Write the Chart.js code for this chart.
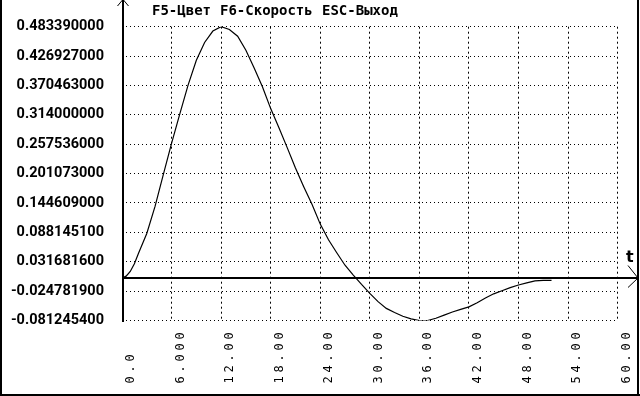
<!DOCTYPE html>
<html><head><meta charset="utf-8">
<script src="https://cdn.jsdelivr.net/npm/chart.js@4"></script>
<style>html,body{margin:0;padding:0;background:#fff;} canvas{display:block;}</style>
</head><body>
<canvas id="c" width="640" height="396"></canvas>
<script>
const T = [0,0.5,1,1.5,2,3,4,5,6,7,8,9,10,11,12,13,14,15,16,17,18,19,20,21,22,23,24,25,26,27,28,29,30,31,32,33,34,35,36,37,38,39,40,41,42,43,44,45,46,47,48,49,50,51,52];
const V = [0,0.004,0.013,0.028,0.048,0.086,0.138,0.199,0.259,0.316,0.371,0.419,0.453,0.475,0.48339,0.478,0.465,0.438,0.404,0.368,0.326,0.289,0.251,0.212,0.176,0.142,0.104,0.074,0.049,0.025,0.006,-0.012,-0.029,-0.045,-0.058,-0.066,-0.073,-0.078,-0.0812,-0.0812,-0.077,-0.071,-0.065,-0.060,-0.055,-0.047,-0.038,-0.030,-0.024,-0.018,-0.013,-0.009,-0.005,-0.004,-0.004];
const X_TICKS = [0,6,12,18,24,30,36,42,48,54,60];
const X_LABELS = ['0.0  ','6.000','12.00','18.00','24.00','30.00','36.00','42.00','48.00','54.00','60.00'];
const Y_TICKS = [0.48339,0.426927,0.370463,0.314,0.257536,0.201073,0.144609,0.0881451,0.0316816,-0.0247819,-0.0812454];
const Y_LABELS = ['0.483390000','0.426927000','0.370463000','0.314000000','0.257536000','0.201073000','0.144609000','0.088145100','0.031681600','-0.024781900','-0.081245400'];
const TITLE_PARTS = ['F5-Цвет','F6-Скорость','ESC-Выход'];
const AXIS_NAME = 't';

const points = T.map((t,i)=>({x:t,y:V[i]}));

const decor = {
  id:'decor',
  afterDatasetsDraw(chart){ chart.ctx.letterSpacing = '3.8px'; },
  afterDraw(chart){
    const ctx = chart.ctx;
    ctx.letterSpacing = '0px';
    ctx.save();
    const xs = chart.scales.x, ys = chart.scales.y;
    const ax = Math.round(xs.getPixelForValue(0));
    const ay = Math.round(ys.getPixelForValue(0));
    ctx.fillStyle = '#000';
    ctx.fillRect(ax, 0, 2, Math.round(ys.bottom)+1);
    ctx.fillRect(ax, ay-1, 638-ax, 2);
    ctx.strokeStyle = '#000'; ctx.lineWidth = 1;
    ctx.beginPath();
    ctx.moveTo(ax-4.5, 6); ctx.lineTo(ax+0.5, 0); ctx.lineTo(ax+1.5,0); ctx.lineTo(ax+6.5, 6);
    ctx.moveTo(628, 265.5); ctx.lineTo(638, ay); ctx.lineTo(628, 287.5);
    ctx.stroke();
    ctx.fillRect(0,0,2,396);
    ctx.fillRect(0,394,640,2);
    ctx.fillRect(637,0,2,396);
    ctx.font = 'bold 14px "DejaVu Sans Mono", monospace';
    ctx.textBaseline = 'alphabetic';
    ctx.textAlign = 'left';
    ctx.fillText(TITLE_PARTS[0], 152, 15);
    ctx.fillText(TITLE_PARTS[1], 220, 15);
    ctx.fillText(TITLE_PARTS[2], 322, 15);
    ctx.font = 'bold 16px "DejaVu Sans", sans-serif';
    ctx.fillText(AXIS_NAME, 626, 262);
    ctx.restore();
  }
};

new Chart(document.getElementById('c'), {
  type:'scatter',
  data:{datasets:[{data:points, showLine:true, borderColor:'#000', borderWidth:1.2, pointRadius:0, tension:0, fill:false}]},
  options:{
    responsive:false, animation:false,
    layout:{padding:{top:20.5,right:18,bottom:0,left:0}},
    plugins:{legend:{display:false},tooltip:{enabled:false},title:{display:false}},
    scales:{
      x:{type:'linear', min:0, max:60,
        afterBuildTicks(s){ s.ticks = X_TICKS.map(v=>({value:v})); },
        afterFit(s){ s.height = 75.5; },
        border:{display:false, dash:[2,3]},
        grid:{color:'#000', lineWidth:1, drawTicks:false},
        ticks:{autoSkip:false, minRotation:90, maxRotation:90, padding:8, labelOffset:9, z:1,
          color:'#000', font:{family:'"DejaVu Sans Mono", monospace', size:12},
          callback:(v,i)=>X_LABELS[i]}
      },
      y:{type:'linear', min:-0.0812454, max:0.48339,
        afterBuildTicks(s){ s.ticks = Y_TICKS.map(v=>({value:v})); },
        afterFit(s){ s.width = 122; },
        border:{display:false, dash:[1,3]},
        grid:{color:'#000', lineWidth:1, drawTicks:false},
        ticks:{autoSkip:false, padding:18, color:'#000',
          font:{family:'Roboto, "Liberation Sans", sans-serif', size:14.5, weight:'bold'},
          callback:(v,i)=>Y_LABELS[i]}
      }
    }
  },
  plugins:[decor]
});
</script>
</body></html>
